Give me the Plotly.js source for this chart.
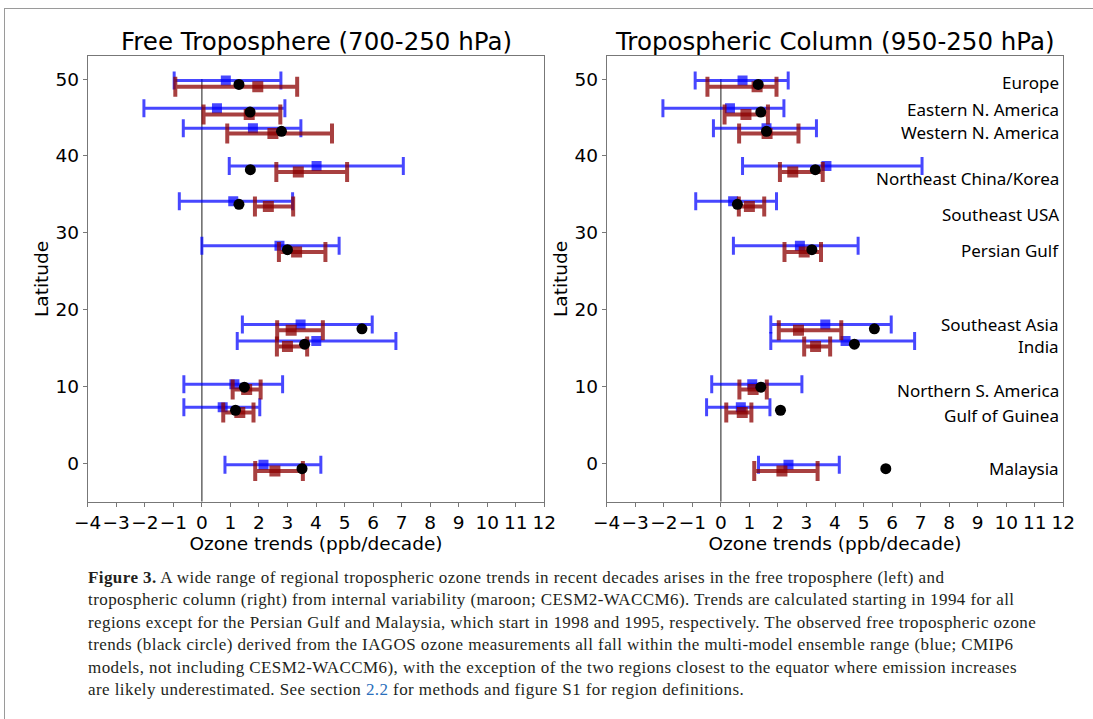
<!DOCTYPE html>
<html>
<head>
<meta charset="utf-8">
<script src="https://cdn.plot.ly/plotly-3.0.1.min.js"></script>
<style>
  html, body { margin:0; padding:0; background:#fff; }
  #wrap { position:relative; width:1093px; height:719px; overflow:hidden; }
  #chart { position:absolute; left:0; top:0; width:1093px; height:719px; }
  #frame { position:absolute; left:4px; top:8px; width:1200px; height:800px; border-left:1px solid #9a9a9a; border-top:1px solid #9a9a9a; pointer-events:none; }
  #cap { position:absolute; left:88px; top:567px; font-family:'Liberation Serif','DejaVu Serif',serif; font-size:17px; letter-spacing:0.42px; line-height:22.4px; white-space:nowrap; color:#231f20; }
  #cap a { color:#2a6ebb; text-decoration:none; }
</style>
</head>
<body>
<div id="wrap">
  <div id="chart"></div>
  <div id="frame"></div>
  <div id="cap"><b>Figure 3.</b> A wide range of regional tropospheric ozone trends in recent decades arises in the free troposphere (left) and<br>tropospheric column (right) from internal variability (maroon; CESM2-WACCM6). Trends are calculated starting in 1994 for all<br>regions except for the Persian Gulf and Malaysia, which start in 1998 and 1995, respectively. The observed free tropospheric ozone<br>trends (black circle) derived from the IAGOS ozone measurements all fall within the multi-model ensemble range (blue; CMIP6<br>models, not including CESM2-WACCM6), with the exception of the two regions closest to the equator where emission increases<br>are likely underestimated. See section <a>2.2</a> for methods and figure S1 for region definitions.</div>
</div>
<script>
// ---- Data ----
const regions = ['Europe','Eastern N. America','Western N. America','Northeast China/Korea','Southeast USA','Persian Gulf','Southeast Asia','India','Northern S. America','Gulf of Guinea','Malaysia'];
const labelLat = [49.5, 46.0, 43.1, 37.0, 32.4, 27.7, 18.1, 15.2, 9.5, 6.2, -0.65];

const latEns = [49.8, 46.2, 43.6, 38.7, 34.1, 28.3, 18.05, 15.9, 10.3, 7.3, -0.2];
const latInt = [49.0, 45.4, 42.9, 37.9, 33.4, 27.5, 17.3, 15.2, 9.6, 6.6, -1.0];
const latObs = [49.3, 45.7, 43.2, 38.2, 33.7, 27.8, 17.5, 15.5, 9.9, 6.9, -0.7];

// Free troposphere (700-250 hPa)
const ftEnsMid = [0.84, 0.53, 1.79, 4.02, 1.10, 2.72, 3.46, 4.01, 1.14, 0.73, 2.16];
const ftEnsLo  = [-0.97, -2.03, -0.65, 0.96, -0.79, 0.00, 1.42, 1.24, -0.63, -0.63, 0.81];
const ftEnsHi  = [2.77, 2.91, 3.47, 7.06, 3.18, 4.81, 5.97, 6.80, 2.83, 2.03, 4.17];
const ftIntMid = [1.96, 1.66, 2.49, 3.38, 2.33, 3.32, 3.13, 3.00, 1.57, 1.33, 2.56];
const ftIntLo  = [-0.93, 0.06, 0.89, 2.61, 1.86, 2.70, 2.64, 2.63, 1.08, 0.75, 1.87];
const ftIntHi  = [3.34, 2.75, 4.56, 5.09, 3.20, 4.33, 4.24, 3.69, 2.06, 1.81, 3.54];
const ftObs    = [1.30, 1.69, 2.79, 1.70, 1.30, 3.00, 5.61, 3.60, 1.49, 1.18, 3.51];

// Tropospheric column (950-250 hPa)
const tcEnsMid = [0.76, 0.32, 1.60, 3.70, 0.43, 2.77, 3.66, 4.37, 1.10, 0.70, 2.37];
const tcEnsLo  = [-0.90, -2.03, -0.26, 0.76, -0.88, 0.44, 1.75, 1.75, -0.32, -0.50, 1.32];
const tcEnsHi  = [2.36, 2.21, 3.35, 7.05, 1.95, 4.81, 5.97, 6.79, 2.84, 1.72, 4.15];
const tcIntMid = [1.27, 0.88, 1.62, 2.52, 1.00, 2.92, 2.72, 3.32, 1.13, 0.75, 2.14];
const tcIntLo  = [-0.47, 0.13, 0.64, 2.07, 0.63, 2.23, 2.03, 2.92, 0.65, 0.19, 1.17];
const tcIntHi  = [1.95, 1.65, 2.72, 3.57, 1.52, 3.51, 4.22, 3.83, 1.61, 1.07, 3.39];
const tcObs    = [1.31, 1.40, 1.60, 3.31, 0.58, 3.19, 5.38, 4.68, 1.40, 2.09, 5.78];

const panelTitles = ['Free Troposphere (700-250 hPa)', 'Tropospheric Column (950-250 hPa)'];
const xTitle = 'Ozone trends (ppb/decade)';
const yTitle = 'Latitude';

// ---- Styles ----
const BLUE = 'rgba(0,0,255,0.72)';
const RED = 'rgba(139,0,0,0.75)';
const TICKFONT = {family:'DejaVu Sans', size:18.5, color:'#000'};

function diff(a, b) { return a.map((v, i) => v - b[i]); }

function panel(ensMid, ensLo, ensHi, intMid, intLo, intHi, obs, xa, ya) {
  return [
    {type:'scatter', mode:'markers', x:ensMid, y:latEns, xaxis:xa, yaxis:ya,
     marker:{symbol:'square', size:10, color:BLUE, line:{width:0}},
     error_x:{type:'data', symmetric:false, array:diff(ensHi, ensMid), arrayminus:diff(ensMid, ensLo), color:BLUE, thickness:3, width:9},
     hoverinfo:'skip'},
    {type:'scatter', mode:'markers', x:intMid, y:latInt, xaxis:xa, yaxis:ya,
     marker:{symbol:'square', size:11, color:RED, line:{width:0}},
     error_x:{type:'data', symmetric:false, array:diff(intHi, intMid), arrayminus:diff(intMid, intLo), color:RED, thickness:4, width:10},
     hoverinfo:'skip'},
    {type:'scatter', mode:'markers', x:obs, y:latObs, xaxis:xa, yaxis:ya,
     marker:{symbol:'circle', size:11, color:'#000', line:{width:0}},
     hoverinfo:'skip'}
  ];
}

const data = [].concat(
  panel(ftEnsMid, ftEnsLo, ftEnsHi, ftIntMid, ftIntLo, ftIntHi, ftObs, 'x', 'y'),
  panel(tcEnsMid, tcEnsLo, tcEnsHi, tcIntMid, tcIntLo, tcIntHi, tcObs, 'x2', 'y2')
);

const W = 1093, H = 719;
const dx1 = [87.7 / W, 544.3 / W];
const dx2 = [606.7 / W, 1063.3 / W];
const dy = [1 - 501.7 / H, 1 - 56 / H];

function xaxis(domain, anchor) {
  return {domain:domain, anchor:anchor, range:[-4, 12], tick0:0, dtick:1, ticks:'outside', ticklen:4, tickwidth:1,
    tickcolor:'#777', showline:true, linecolor:'#777', linewidth:1, mirror:true, showgrid:false, zeroline:false,
    tickfont:TICKFONT, tickangle:0, automargin:false,
    title:{text:xTitle, font:{family:'DejaVu Sans', size:18.5, color:'#000'}, standoff:0}};
}
function yaxis(domain, anchor) {
  return {domain:domain, anchor:anchor, range:[-5, 53], tick0:0, dtick:10, ticks:'outside', ticklen:4, tickwidth:1,
    tickcolor:'#777', showline:true, linecolor:'#777', linewidth:1, mirror:true, showgrid:false, zeroline:false,
    tickfont:TICKFONT, automargin:false,
    title:{text:yTitle, font:{family:'DejaVu Sans', size:18.5, color:'#000'}, standoff:1}};
}

const annotations = [
  {xref:'paper', yref:'paper', x:(dx1[0] + dx1[1]) / 2, y:1 - 42 / H, xanchor:'center', yanchor:'middle', showarrow:false,
   text:panelTitles[0], font:{family:'DejaVu Sans', size:24.5, color:'#000'}},
  {xref:'paper', yref:'paper', x:(dx2[0] + dx2[1]) / 2, y:1 - 42 / H, xanchor:'center', yanchor:'middle', showarrow:false,
   text:panelTitles[1], font:{family:'DejaVu Sans', size:24.5, color:'#000'}}
].concat(regions.map((r, i) => ({
  xref:'x2', yref:'y2', x:11.92, y:labelLat[i], xanchor:'right', yanchor:'middle', showarrow:false,
  text:r, font:{family:'Noto Sans', size:17, color:'#000'}
})));

const shapes = [
  {type:'line', xref:'x', yref:'y', x0:0, x1:0, y0:-5, y1:50, line:{color:'#666', width:1.5}, layer:'below'},
  {type:'line', xref:'x2', yref:'y2', x0:0, x1:0, y0:-5, y1:50, line:{color:'#666', width:1.5}, layer:'below'}
];

const layout = {
  width:W, height:H, margin:{l:0, r:0, t:0, b:0}, paper_bgcolor:'#fff', plot_bgcolor:'#fff',
  showlegend:false,
  xaxis:xaxis(dx1, 'y'), yaxis:yaxis(dy, 'x'),
  xaxis2:xaxis(dx2, 'y2'), yaxis2:yaxis(dy, 'x2'),
  annotations:annotations, shapes:shapes
};

Plotly.newPlot('chart', data, layout, {staticPlot:true, displayModeBar:false});
</script>
</body>
</html>
